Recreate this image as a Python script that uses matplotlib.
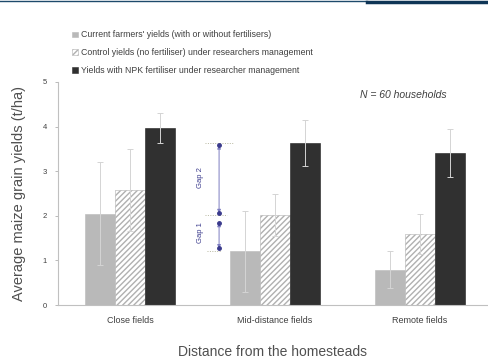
import matplotlib
matplotlib.use("Agg")
import matplotlib.pyplot as plt
import numpy as np
from matplotlib.patches import Patch
from matplotlib.lines import Line2D

plt.rcParams['font.family'] = ['Liberation Sans', 'DejaVu Sans']
plt.rcParams['hatch.linewidth'] = 1.0

categories = ["Close fields", "Mid-distance fields", "Remote fields"]
series_labels = [
    "Current farmers' yields (with or without fertilisers)",
    "Control yields (no fertiliser) under researchers management",
    "Yields with NPK fertiliser under researcher management",
]
farmers = [2.05, 1.20, 0.79]
control = [2.58, 2.02, 1.60]
npk = [3.97, 3.63, 3.41]
farmers_err = [1.15, 0.90, 0.41]
control_err = [0.92, 0.48, 0.45]
npk_err = [0.33, 0.52, 0.54]
yticks = [0, 1, 2, 3, 4, 5]

fig = plt.figure(figsize=(4.89, 3.61), dpi=100)
ax = fig.add_axes([58 / 489, 56 / 361, 429 / 489, 223 / 361])

x = np.arange(len(categories))
w = 0.207
gray = "#b9b9b9"
dark = "#303030"
errc = "#d4d4d4"
hatchc = "#b0b0b0"

ekw = dict(ecolor=errc, elinewidth=0.7, capsize=2, capthick=0.7)
ax.bar(x - w, farmers, w, color=gray, edgecolor=gray, linewidth=0.4,
       yerr=farmers_err, error_kw=ekw, zorder=2)
ax.bar(x, control, w, color="white", edgecolor=hatchc, hatch="//////",
       linewidth=0.4, yerr=control_err, error_kw=ekw, zorder=2)
ax.bar(x + w, npk, w, color=dark, edgecolor="#202020", linewidth=0.4,
       yerr=npk_err, error_kw=ekw, zorder=2)

ax.set_xlim(-0.497, 2.462)
ax.set_ylim(0, 5)
ax.set_yticks(yticks)
ax.set_yticklabels([str(v) for v in yticks])
ax.set_xticks(x)
ax.set_xticklabels(categories)
ax.tick_params(axis='y', labelsize=5.5, length=2, width=0.5, color="#a0a0a0",
               labelcolor="#404040", pad=6)
ax.tick_params(axis='x', labelsize=6.5, length=0, labelcolor="#404040", pad=8)
for s in ["top", "right"]:
    ax.spines[s].set_visible(False)
for s in ["left", "bottom"]:
    ax.spines[s].set_color("#c0c0c0")
    ax.spines[s].set_linewidth(0.8)

ax.set_ylabel("Average maize grain yields (t/ha)", fontsize=10.5, color="#505050",
              labelpad=12)
ax.set_xlabel("Distance from the homesteads", fontsize=10, color="#505050",
              labelpad=14)

# yield gaps for mid-distance fields
gx = 0.614
for yv, x0, x1 in [(npk[1], 0.517, 0.71), (control[1], 0.517, 0.67), (farmers[1], 0.53, 0.63)]:
    ax.plot([x0, x1], [yv, yv], ls=(0, (1, 1.5)), color="#b8b8a0", lw=0.7, zorder=3)
navy = "#3a3a8c"
ax.annotate("", xy=(gx, npk[1] - 0.05), xytext=(gx, control[1] + 0.04),
            arrowprops=dict(arrowstyle="<|-|>", color="#7c7cc0", lw=0.7,
                            mutation_scale=5, shrinkA=0, shrinkB=0), zorder=4)
ax.annotate("", xy=(gx, control[1] - 0.18), xytext=(gx, farmers[1] + 0.07),
            arrowprops=dict(arrowstyle="<|-|>", color="#7c7cc0", lw=0.7,
                            mutation_scale=5, shrinkA=0, shrinkB=0), zorder=4)
for yv in [npk[1] - 0.05, control[1] + 0.04, control[1] - 0.18, farmers[1] + 0.07]:
    ax.plot([gx], [yv], marker="o", ms=2.5, color=navy, zorder=5)
ax.text(0.483, 2.85, "Gap 2", rotation=90, fontsize=5.5, color=navy,
        ha="center", va="center")
ax.text(0.483, 1.62, "Gap 1", rotation=90, fontsize=5.5, color=navy,
        ha="center", va="center")

fig.text(360 / 489, 1 - 95 / 361, "N = 60 households",
         fontsize=7.5, style="italic", color="#404040", ha="left", va="center")

handles = [
    Patch(facecolor=gray, edgecolor=gray, linewidth=0.4),
    Patch(facecolor="white", edgecolor=hatchc, hatch="//////", linewidth=0.4),
    Patch(facecolor=dark, edgecolor=dark, linewidth=0.4),
]
fig.legend(handles, series_labels, loc="upper left",
           bbox_to_anchor=(68 / 489, 1 - 26 / 361), frameon=False,
           fontsize=6.3, handlelength=0.6, handleheight=0.6, handletextpad=0.4,
           labelspacing=1.0, labelcolor="#404040", borderpad=0)

# header rule
fig.add_artist(Line2D([0, 367 / 489], [1 - 1 / 361, 1 - 1 / 361],
                      transform=fig.transFigure, color="#1d4a6b", lw=1.0))
fig.add_artist(Line2D([367 / 489, 1], [1 - 1.5 / 361, 1 - 1.5 / 361],
                      transform=fig.transFigure, color="#0f3556", lw=2.5))

fig.savefig("out.png", dpi=100)
